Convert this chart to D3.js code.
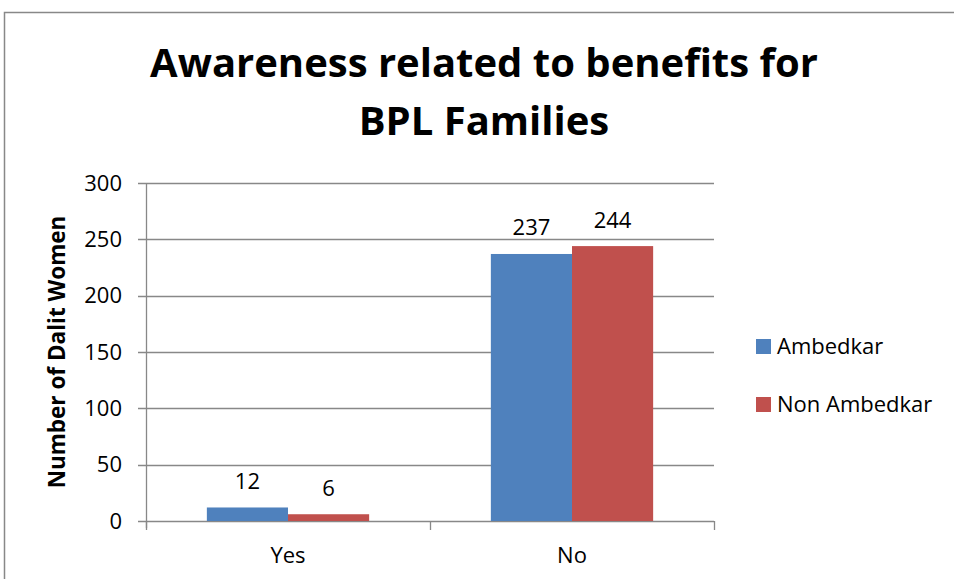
<!DOCTYPE html>
<html><head><meta charset="utf-8">
<script src="https://cdn.jsdelivr.net/npm/d3@7"></script>
<style>body{margin:0;background:#fff}</style>
</head><body>
<svg id="c" width="954" height="579"></svg>
<script>
const categories = ["Yes", "No"];
const seriesNames = ["Ambedkar", "Non Ambedkar"];
const ambedkar = [12, 237];
const nonAmbedkar = [6, 244];
const yTicks = [0, 50, 100, 150, 200, 250, 300];
const colors = ["#4F81BD", "#C0504D"];

(function () {
const svg = d3.select("#c");
const font = "'Open Sans', sans-serif";
const fs = 22;
svg.append("rect").attr("x", 4.5).attr("y", 12.5).attr("width", 1000).attr("height", 1000)
  .attr("fill", "#fff").attr("stroke", "#888").attr("stroke-width", 1.5);

const pLeft = 146, pRight = 714, pTop = 183, pBottom = 521;
const x = d3.scaleBand().domain(categories).range([pLeft, pRight]);
const y = d3.scaleLinear().domain([0, 300]).range([pBottom, pTop]);
const xs = d3.scaleBand().domain(seriesNames).range([0, x.bandwidth()]).paddingInner(0).paddingOuter(0.75);

// gridlines
svg.append("g").selectAll("line").data(yTicks).join("line")
  .attr("x1", pLeft - 8).attr("x2", pRight).attr("y1", d => Math.round(y(d)) + 0.5).attr("y2", d => Math.round(y(d)) + 0.5)
  .attr("stroke", "#888").attr("stroke-width", 1.3);

const data = [ambedkar, nonAmbedkar];
categories.forEach((c, i) => {
  seriesNames.forEach((s, j) => {
    const v = data[j][i];
    svg.append("rect").attr("x", x(c) + xs(s)).attr("width", xs.bandwidth())
      .attr("y", y(v)).attr("height", y(0) - y(v)).attr("fill", colors[j]);
    svg.append("text").attr("x", x(c) + xs(s) + xs.bandwidth() / 2).attr("y", y(v) - 18.5)
      .attr("text-anchor", "middle").attr("font-family", font).attr("font-size", fs).attr("fill", "#000").text(v);
  });
});

// y axis line
svg.append("line").attr("x1", pLeft + 0.5).attr("x2", pLeft + 0.5).attr("y1", pTop).attr("y2", pBottom + 7)
  .attr("stroke", "#888").attr("stroke-width", 1.3);
// x axis ticks
const xEdges = [pLeft, pLeft + x.bandwidth(), pRight];
svg.append("g").selectAll("line").data(xEdges).join("line")
  .attr("x1", d => Math.round(d) + 0.5).attr("x2", d => Math.round(d) + 0.5).attr("y1", pBottom).attr("y2", pBottom + 9)
  .attr("stroke", "#888").attr("stroke-width", 1.3);

// y tick labels
svg.append("g").selectAll("text").data(yTicks).join("text")
  .attr("x", 122).attr("y", d => y(d)).attr("dy", "0.35em").attr("text-anchor", "end")
  .attr("font-family", font).attr("font-size", fs).text(d => d);

// x labels
svg.append("g").selectAll("text").data(categories).join("text")
  .attr("x", d => x(d) + x.bandwidth() / 2).attr("y", 563).attr("text-anchor", "middle")
  .attr("font-family", font).attr("font-size", fs).text(d => d);

// y title
svg.append("text").attr("transform", "translate(65,352) rotate(-90)").attr("text-anchor", "middle")
  .attr("font-family", font).attr("font-weight", "bold").attr("font-size", 22.5).text("Number of Dalit Women");

// title
const title = ["Awareness related to benefits for", "BPL Families"];
svg.append("g").selectAll("text").data(title).join("text")
  .attr("x", 484).attr("y", (d, i) => 77 + i * 58).attr("text-anchor", "middle")
  .attr("font-family", font).attr("font-weight", "bold").attr("font-size", 40).text(d => d);

// legend
const lg = svg.append("g");
seriesNames.forEach((s, i) => {
  lg.append("rect").attr("x", 756).attr("y", 339 + i * 58).attr("width", 15).attr("height", 15).attr("fill", colors[i]);
  lg.append("text").attr("x", 777).attr("y", 354 + i * 58)
    .attr("font-family", font).attr("font-size", fs).text(s);
});
})();
</script>
</body></html>
